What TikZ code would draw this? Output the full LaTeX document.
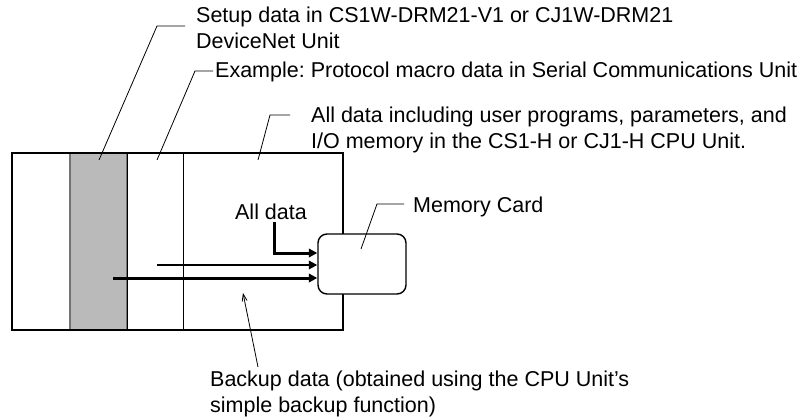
\documentclass[tikz,border=0pt]{standalone}
\usepackage{fontspec}
\setmainfont{Liberation Sans}
\usetikzlibrary{arrows.meta,calc,positioning}
\frenchspacing

\begin{document}
\begin{tikzpicture}[
            x=1pt, y=-1pt,
            >=Latex,
            unitbox/.style={draw=black, line width=1.6pt, rectangle, inner sep=0pt},
            slot/.style={draw=black!55, line width=1.4pt, fill=black!27, rectangle, inner sep=0pt},
            card/.style={draw=black, line width=1.4pt, rectangle, rounded corners=9pt, fill=white, inner sep=0pt, minimum width=88pt, minimum height=60pt},
            lbl/.style={font=\fontsize{21.5}{25.5}\selectfont, inner sep=0pt, align=left, anchor=north west},
            leader/.style={line width=0.8pt},
            flow/.style={-{Triangle[length=8.5pt, width=8.5pt]}, line width=3pt},
            thinflow/.style={-{Triangle[length=8.5pt, width=8.5pt]}, line width=2pt}
        ]
        \useasboundingbox (0,0) rectangle (806,417);

        % units
        \node[slot, minimum width=57pt, minimum height=177pt] (dnslot) at (98.5,241.5) {};
        \node[unitbox, minimum width=331pt, minimum height=177pt] (cpu) at (177.5,241.5) {};
        \draw[line width=0.7pt] (dnslot.north east) -- (dnslot.south east);
        \draw[line width=0.9pt] ($(cpu.north west)+(172,0)$) -- ($(cpu.south west)+(172,0)$);
        \node[card] (memcard) at (362,264) {};

        % labels
        \node[lbl] (setup) at (196,7) {Setup data in CS1W-DRM21-V1 or CJ1W-DRM21\\DeviceNet Unit};
        \node[lbl] (example) at (215,62) {Example: Protocol macro data in Serial Communications Unit};
        \node[lbl] (alldata) at (311,107) {All data including user programs, parameters, and\\I/O memory in the CS1-H or CJ1-H CPU Unit.};
        \node[lbl, anchor=base west] (memlbl) at (413,212) {Memory Card};
        \node[lbl, anchor=base] (allin) at (271,219) {All data};
        \node[lbl] (backup) at (210,371) {Backup data (obtained using the CPU Unit’s\\simple backup function)};

        % leader lines
        \coordinate (setupTip) at (99,160);
        \coordinate (setupKnee) at (157,26);
        \coordinate (exampleTip) at (157,160);
        \coordinate (exampleKnee) at (195,71);
        \coordinate (alldataTip) at (258,160);
        \coordinate (alldataKnee) at (270,115);
        \coordinate (memTip) at (361,249);
        \coordinate (memKnee) at (377,204);
        \coordinate (backupTip) at (243,293);
        \coordinate (backupTail) at (258,367);
        \draw[leader] (setupTip) -- (setupKnee) -- ++(28,0);
        \draw[leader] (exampleTip) -- (exampleKnee) -- ++(18,0);
        \draw[leader] (alldataTip) -- (alldataKnee) -- ++(20,0);
        \draw[leader] (memTip) -- (memKnee) -- ++(27,0);
        \draw[leader, -{Straight Barb[length=7pt, width=5pt]}] (backupTail) -- (backupTip);

        % arrows
        \coordinate (serialSrc) at (157,265);
        \coordinate (dnSrc) at (113,278);
        \draw[flow] ([xshift=3pt, yshift=-3pt]allin.south) |- ([yshift=11pt]memcard.west);
        \draw[thinflow] (serialSrc) -- (memcard.west |- serialSrc);
        \draw[flow] (dnSrc) -- (memcard.west |- dnSrc);

    \end{tikzpicture}
\end{document}
